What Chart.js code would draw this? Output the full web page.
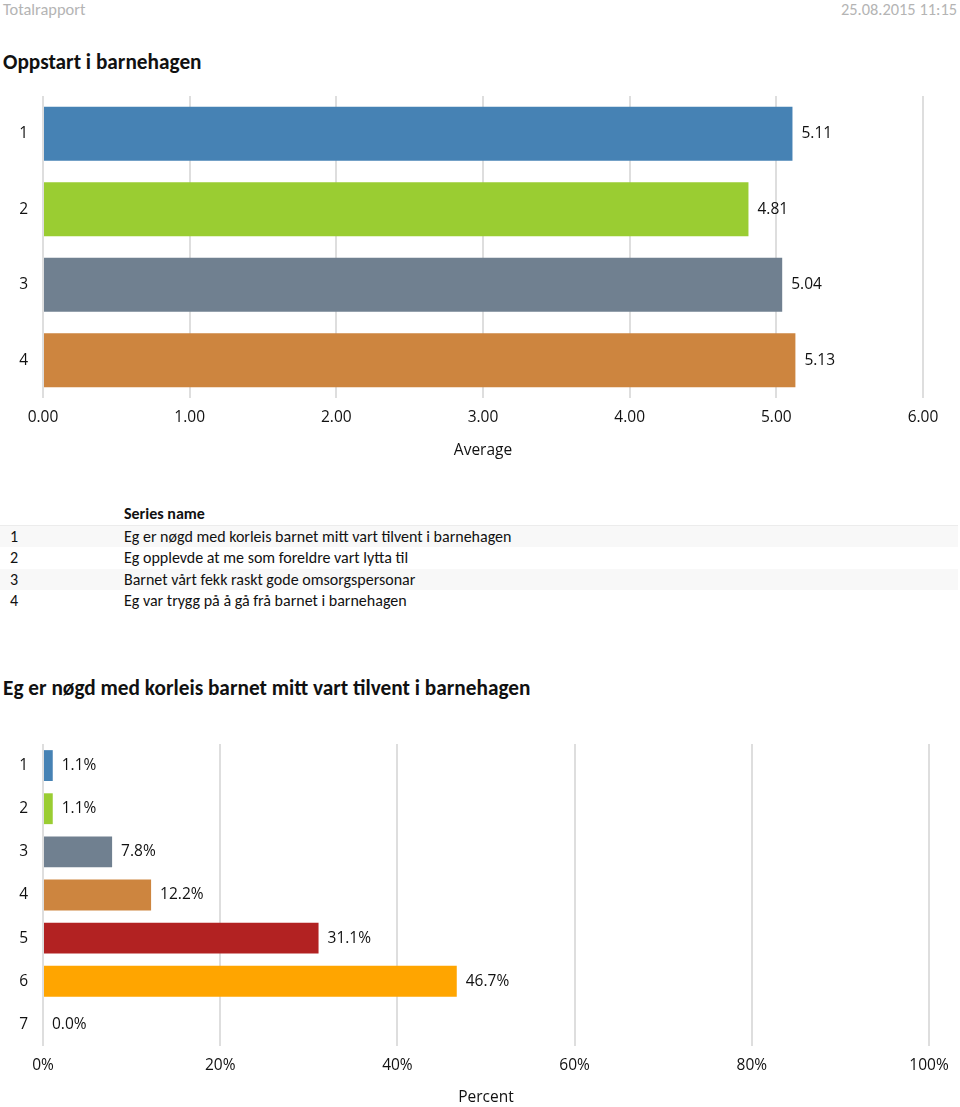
<!DOCTYPE html>
<html>
<head>
<meta charset="utf-8">
<script src="https://cdn.jsdelivr.net/npm/chart.js@4"></script>
<style>
    html, body { margin: 0; padding: 0; background: #fff; }
    body { width: 960px; height: 1107px; position: relative; overflow: hidden; font-family: Carlito, Lato, sans-serif; color: #111; }
    .abs { position: absolute; white-space: nowrap; }
    .hdr { font-size: 16.4px; color: #b4b4b4; top: 0; line-height: 19px; }
    .ttl { font-size: 21.3px; font-weight: 700; left: 3px; line-height: 26px; }
    .row { position: absolute; left: 0; width: 958px; height: 21.5px; line-height: 21.5px; font-size: 16px; }
    .row .n { position: absolute; left: 10px; }
    .row .t { position: absolute; left: 124px; }
    .stripe { background: #f8f8f8; }
    .chart { position: absolute; left: 0; width: 960px; }
</style>
</head>
<body>
<div class="abs hdr" style="left:3px;">Totalrapport</div>
<div class="abs hdr" style="right:3px;">25.08.2015 11:15</div>
<div class="abs ttl" style="top:49px;">Oppstart i barnehagen</div>

<div class="chart" style="top:90px;height:380px;"><canvas id="avgChart"></canvas></div>

<div id="seriesTable"></div>

<div class="abs ttl" id="title2" style="top:675px;"></div>

<div class="chart" style="top:730px;height:377px;"><canvas id="pctChart"></canvas></div>

<script>
    'use strict';

    var seriesNumbers = ['1', '2', '3', '4'];
    var seriesNames = [
        'Eg er nøgd med korleis barnet mitt vart tilvent i barnehagen',
        'Eg opplevde at me som foreldre vart lytta til',
        'Barnet vårt fekk raskt gode omsorgspersonar',
        'Eg var trygg på å gå frå barnet i barnehagen'
    ];
    var averages = [5.11, 4.81, 5.04, 5.13];
    var avgColors = ['#4682b4', '#9acd32', '#708090', '#cd853f'];

    var answerLabels = ['1', '2', '3', '4', '5', '6', '7'];
    var answerPercents = [1.1, 1.1, 7.8, 12.2, 31.1, 46.7, 0.0];
    var answerColors = ['#4682b4', '#9acd32', '#708090', '#cd853f', '#b22222', '#ffa500', '#20b2aa'];

    var tickFont = { family: "'Open Sans', sans-serif", size: 15.5 };
    var gridColor = '#dedede';

    // table with series names
    var table = document.getElementById('seriesTable');
    var head = document.createElement('div');
    head.className = 'row';
    head.style.top = '503px';
    head.style.borderBottom = '2px solid #ececec';
    head.innerHTML = '<span class="t" style="font-weight:700;">Series name</span>';
    table.appendChild(head);

    seriesNames.forEach(function (name, i) {
        var row = document.createElement('div');
        row.className = 'row' + (i % 2 === 0 ? ' stripe' : '');
        row.style.top = (525.5 + i * 21.5) + 'px';
        row.innerHTML = '<span class="n">' + seriesNumbers[i] + '</span><span class="t">' + name + '</span>';
        table.appendChild(row);
    });

    document.getElementById('title2').textContent = seriesNames[0];

    var barLabels = {
        id: 'barLabels',
        afterDatasetsDraw: function (chart, args, options) {
            var ctx = chart.ctx;
            var meta = chart.getDatasetMeta(0);
            var data = chart.data.datasets[0].data;

            ctx.save();
            ctx.font = "15.5px 'Open Sans', sans-serif";
            ctx.fillStyle = '#111';
            ctx.textAlign = 'left';
            ctx.textBaseline = 'middle';

            meta.data.forEach(function (bar, i) {
                ctx.fillText(options.format(data[i]), bar.x + 9, bar.y);
            });

            ctx.restore();
        }
    };

    // keep the plot area where the layout padding puts it
    function fixWidth(width) {
        return function (scale) {
            scale.width = width;
            scale.paddingTop = 0;
            scale.paddingBottom = 0;
        };
    }

    function fixHeight(height) {
        return function (scale) {
            scale.height = height;
            scale.paddingLeft = 0;
            scale.paddingRight = 0;
        };
    }

    function createHorizontalBar(canvasId, config) {
        return new Chart(document.getElementById(canvasId), {
            type: 'bar',
            data: {
                labels: config.labels,
                datasets: [{
                    data: config.data,
                    backgroundColor: config.colors,
                    borderWidth: 0,
                    categoryPercentage: 1,
                    barPercentage: 0.715
                }]
            },
            options: {
                indexAxis: 'y',
                responsive: true,
                maintainAspectRatio: false,
                animation: false,
                layout: { padding: config.padding },
                plugins: {
                    legend: { display: false },
                    tooltip: { enabled: false },
                    barLabels: { format: config.format }
                },
                scales: {
                    x: {
                        min: config.min,
                        max: config.max,
                        afterFit: fixHeight(config.axisHeight),
                        grid: { color: gridColor, lineWidth: 2, drawTicks: false },
                        border: { display: false },
                        ticks: {
                            stepSize: config.step,
                            padding: 10,
                            color: '#111',
                            font: tickFont,
                            callback: config.tickFormat
                        },
                        title: {
                            display: true,
                            text: config.title,
                            color: '#111',
                            font: { family: "'Open Sans', sans-serif", size: 15.5 },
                            padding: { top: 0, bottom: config.titlePad }
                        }
                    },
                    y: {
                        afterFit: fixWidth(43),
                        grid: { display: false, drawTicks: false },
                        border: { display: false },
                        ticks: { padding: 15, color: '#111', font: tickFont }
                    }
                }
            },
            plugins: [barLabels]
        });
    }

    createHorizontalBar('avgChart', {
        labels: seriesNumbers,
        data: averages,
        colors: avgColors,
        min: 0,
        max: 6,
        step: 1,
        title: 'Average',
        titlePad: 10,
        axisHeight: 72,
        padding: { top: 6, right: 37, left: 0, bottom: 0 },
        format: function (v) { return v.toFixed(2); },
        tickFormat: function (v) { return Number(v).toFixed(2); }
    });

    createHorizontalBar('pctChart', {
        labels: answerLabels,
        data: answerPercents,
        colors: answerColors,
        min: 0,
        max: 100,
        step: 20,
        title: 'Percent',
        titlePad: 0,
        axisHeight: 61,
        padding: { top: 14, right: 31, left: 0, bottom: 0 },
        format: function (v) { return v.toFixed(1) + '%'; },
        tickFormat: function (v) { return v + '%'; }
    });
</script>
</body>
</html>
